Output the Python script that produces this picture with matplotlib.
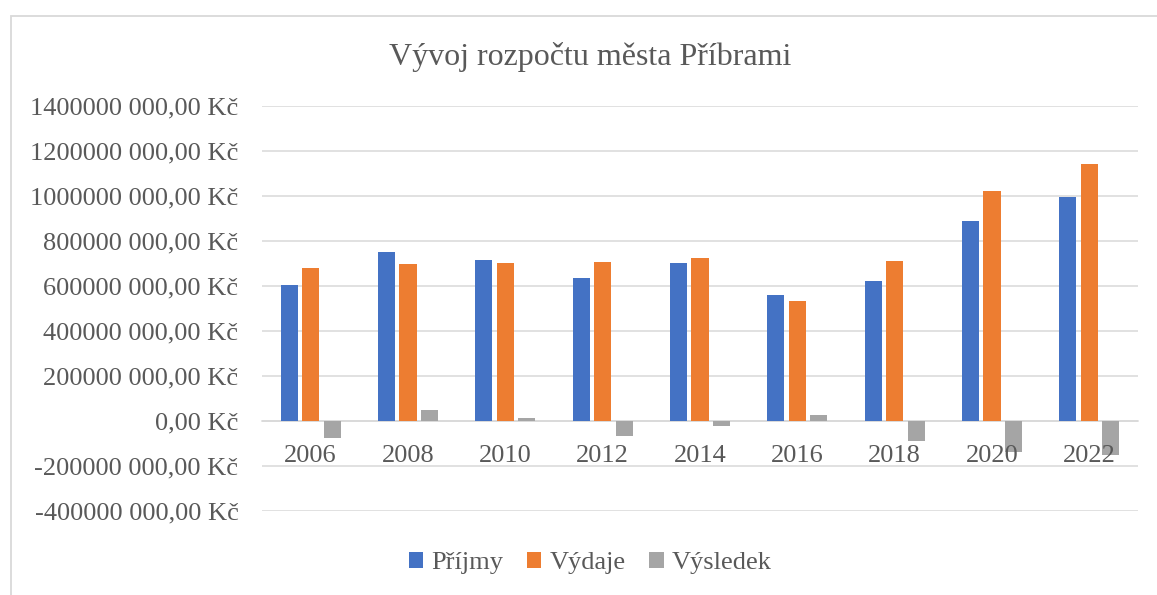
import matplotlib
matplotlib.use("Agg")
import matplotlib.pyplot as plt
import numpy as np
from matplotlib.patches import Patch, Rectangle
from matplotlib.ticker import FuncFormatter

years = ["2006", "2008", "2010", "2012", "2014", "2016", "2018", "2020", "2022"]
prijmy = [606e6, 750e6, 714e6, 637e6, 702e6, 562e6, 624e6, 887e6, 994e6]
vydaje = [680e6, 696e6, 702e6, 705e6, 723e6, 535e6, 713e6, 1024e6, 1144e6]
vysledek = [-75e6, 51e6, 12e6, -68e6, -22e6, 25e6, -89e6, -138e6, -152e6]
series_names = ["Příjmy", "Výdaje", "Výsledek"]
colors = ["#4472C4", "#ED7D31", "#A5A5A5"]

TEXT = "#595959"
GRID = "#D9D9D9"
plt.rcParams["font.family"] = ["Liberation Serif", "DejaVu Serif"]


def kc(v, _pos=None):
    if v == 0:
        return "0,00 Kč"
    return f"{int(round(v / 1000))} 000,00 Kč"


def main() -> None:
    fig = plt.figure(figsize=(11.57, 5.95), dpi=100)
    W, H = 1157, 595
    ax = fig.add_axes([262 / W, 1 - 511 / H, (1138 - 262) / W, (511 - 106) / H])

    x = np.arange(len(years))
    stride = 0.221
    width = 0.175
    for i, (vals, c) in enumerate(zip([prijmy, vydaje, vysledek], colors)):
        ax.bar(x + (i - 1) * stride, vals, width, color=c, zorder=2)

    ax.set_xlim(-0.5, len(years) - 0.5)
    ax.set_ylim(-400e6, 1400e6)
    yticks = np.arange(-400e6, 1400e6 + 1, 200e6)
    ax.set_yticks(yticks)
    ax.yaxis.set_major_formatter(FuncFormatter(kc))
    # gridlines drawn by hand so the year labels can sit above the bars
    for yv in yticks:
        ax.axhline(yv, color=GRID, linewidth=1.1, zorder=0)
    ax.set_axisbelow(False)

    ax.set_xticks(x)
    ax.set_xticklabels(years)
    for side in ["top", "right", "left"]:
        ax.spines[side].set_visible(False)
    ax.spines["bottom"].set_position(("data", 0))
    ax.spines["bottom"].set_color(GRID)
    ax.spines["bottom"].set_linewidth(1.1)
    ax.spines["bottom"].set_zorder(0.5)
    ax.tick_params(axis="both", length=0, labelsize=19, colors=TEXT)
    ax.tick_params(axis="y", pad=17)
    ax.tick_params(axis="x", pad=17)

    fig.text(590 / W, 1 - 57 / H, "Vývoj rozpočtu města Příbrami",
             ha="center", va="center", fontsize=23, color=TEXT)

    handles = [Patch(facecolor=c, edgecolor="none") for c in colors]
    fig.legend(handles, series_names, loc="center", bbox_to_anchor=(590 / W, 1 - 563 / H),
               ncol=3, frameon=False, fontsize=19, labelcolor=TEXT,
               handlelength=0.55, handleheight=0.55, handletextpad=0.3,
               columnspacing=0.9)

    fig.patches.append(Rectangle((11 / W, -0.1), 1.2, 1.1 - 16 / H, transform=fig.transFigure,
                                 fill=False, edgecolor=GRID, linewidth=1.3))

    fig.savefig("out.png", dpi=100)
    plt.close(fig)


if __name__ == "__main__":
    main()
